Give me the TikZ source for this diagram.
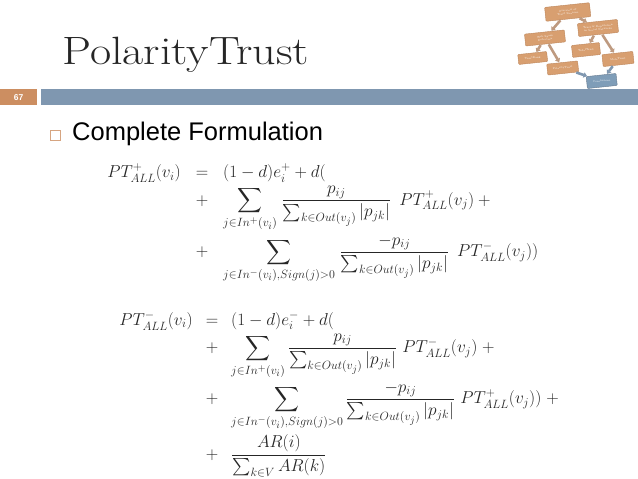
\documentclass[tikz,border=0pt]{standalone}
\usepackage{amssymb}
\usepackage{amsmath}
\usepackage{fontspec}
\usepackage{xcolor}
\usepackage{tikz}
\usetikzlibrary{matrix,arrows.meta}
\newfontfamily\slidefont{Liberation Sans}
\definecolor{barblue}{HTML}{7F97B0}
\definecolor{numorange}{HTML}{CC8E61}
\definecolor{boxorange}{HTML}{D89F70}
\definecolor{boxedge}{HTML}{BC855A}
\definecolor{boxblue}{HTML}{7F9DB8}
\definecolor{arrowtan}{HTML}{BE9A80}
\definecolor{arrowblue}{HTML}{7F97B0}
\newcommand{\PTall}[2]{PT^{#1}_{ALL}(#2)}
\newcommand{\denomsum}{\sum_{k\in Out(v_j)}|p_{jk}|}
\tikzset{
  mapbox/.style={draw=boxedge, fill=boxorange, rounded corners=.8pt, rotate=6, align=center, text=white, inner sep=0pt, font=\fontsize{2.5}{3.2}\selectfont},
  maparrow/.style={draw=arrowtan, line width=2.6pt, -{Triangle[length=3.5pt,width=5.5pt]}, shorten >=.5pt, shorten <=.5pt},
  mapbluearrow/.style={maparrow, draw=arrowblue},
  eqmatrix/.style={matrix of math nodes, inner sep=0pt, nodes={anchor=base west, inner sep=0pt, font=\LARGE, text=black!85}, column sep=15pt}
}
\begin{document}
\begin{tikzpicture}[x=1pt,y=-1pt]
\useasboundingbox (0,0) rectangle (638,479);
\node[fill=barblue, minimum width=597pt, minimum height=16pt, inner sep=0pt, anchor=north west] (bar) at (41,89) {};
\node[fill=numorange, minimum width=37pt, minimum height=16pt, inner sep=0pt, anchor=north west, text=white, font=\slidefont\bfseries\fontsize{8.5}{10}\selectfont] (num) at (0,89) {67};
\node[anchor=base west, inner sep=0pt, text=black!85, xscale=1.167, transform shape, font=\fontsize{39.5}{46}\selectfont] (title) at (62,64) {PolarityTrust};
\node[draw=numorange!80, line width=.6pt, minimum size=10pt, inner sep=0pt] (bullet) at (55.5,135) {};
\node[anchor=base west, inner sep=0pt, font=\slidefont\fontsize{25.5}{30}\selectfont] (head) at (72,140) {Complete Formulation};
% small map of the talk
\node[mapbox, minimum width=45pt, minimum height=14pt] (overview) at (567.7,12) {Overview of\\Trust Reasons};
\node[mapbox, minimum width=40pt, minimum height=13pt] (social) at (598,28) {Trust \& Reputation\\in Social Networks};
\node[mapbox, minimum width=40pt, minimum height=12pt] (spam) at (545,38) {Web Spam\\Detection};
\node[mapbox, minimum width=29pt, minimum height=10pt] (rank) at (532.7,58) {TrustRank};
\node[mapbox, minimum width=31pt, minimum height=11pt] (polarity) at (562.7,68) {PolarityTrust};
\node[mapbox, minimum width=28pt, minimum height=12pt] (tidal) at (586,50) {TidalTrust};
\node[mapbox, minimum width=31pt, minimum height=12pt] (mole) at (618,59) {MoleTrust};
\node[mapbox, fill=boxblue, draw=barblue!80!black, minimum width=30pt, minimum height=12pt] (concl) at (601.7,81) {Conclusions};
\draw[maparrow] (overview) -- (spam);
\draw[maparrow] (overview) -- (social);
\draw[maparrow] (spam) -- (rank);
\draw[maparrow] (spam) -- (polarity);
\draw[maparrow] (social) -- (tidal);
\draw[maparrow] (social) -- (mole);
\draw[mapbluearrow] (polarity) -- (concl);
\draw[mapbluearrow] (mole) -- (concl);
% formulas
\matrix[eqmatrix, anchor=north west] (eqplus) at (107,163.5) {
 \PTall{+}{v_i} & = & (1-d)e_i^+ + d( \\[3.5pt]
 & + & \displaystyle\sum_{j\in In^+(v_i)}\mkern2mu \frac{p_{ij}}{\denomsum}\ \,\PTall{+}{v_j} +{} \\[3.5pt]
 & + & \displaystyle\sum_{j\in In^-(v_i),Sign(j)>0}\mkern2mu \frac{-p_{ij}}{\denomsum}\ \,\PTall{-}{v_j}) \\
};
\matrix[eqmatrix, anchor=north west, column sep=13pt] (eqminus) at (119,311) {
 \PTall{-}{v_i} & = & (1-d)e_i^- + d( \\[3.5pt]
 & + & \displaystyle\sum_{j\in In^+(v_i)} \frac{p_{ij}}{\denomsum}\ \PTall{-}{v_j} \mkern1mu+{} \\[3pt]
 & + & \displaystyle\sum_{j\in In^-(v_i),Sign(j)>0} \frac{-p_{ij}}{\denomsum}\ \PTall{+}{v_j}) \mkern1mu+{} \\[4.5pt]
 & + & \displaystyle\frac{AR(i)}{\sum_{k\in V} AR(k)} \\
};
\end{tikzpicture}
\end{document}
